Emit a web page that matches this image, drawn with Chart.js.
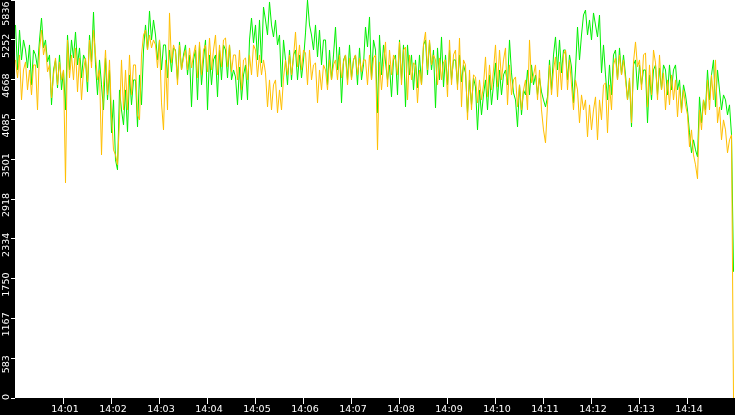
<!DOCTYPE html>
<html>
<head>
<meta charset="utf-8">
<script src="https://cdn.jsdelivr.net/npm/chart.js@4.4.1/dist/chart.umd.min.js"></script>
<style>
  html, body { margin: 0; padding: 0; background: #000; overflow: hidden; }
  #wrap { width: 735px; height: 415px; }
</style>
</head>
<body>
<div id="wrap"><canvas id="c" width="735" height="415"></canvas></div>
<script>
// ---- data ----
const sampleSeconds = 2.5;          // one sample every 2.5 s, starting 14:00:00
const greenSeries = [
5470,4810,5396,4957,5250, 5103,4840,5177,4591,5103, 5030,4840,5250,5572,5133, 5250,4928,5030,4298,4810,
4957,4547,5030,4517,4810, 4224,5323,4810,5250,4986, 5367,4884,5133,4693,5030, 4957,4488,5323,4928,5660,
4884,4444,4957,4591,4224, 4986,4371,4810,3888,4371, 3492,3345,4517,4224,4005, 4517,3902,4737,4298,4664,
4664,3975,4737,4298,5103, 5470,5103,5675,5250,5543, 5323,4957,5250,4810,5177, 5177,4693,5103,4781,5133,
5103,4664,5221,4810,5030, 5177,4737,5030,4268,4957, 5103,4371,5177,4591,4957, 5250,4224,5030,4591,4957,
5030,4415,5103,4664,5177, 5103,4693,5177,4664,4810, 4708,4298,4854,4371,4737, 4884,4371,5250,5572,5206,
5470,4957,5543,4913,5733, 5543,5323,5807,5470,5294, 5543,5177,5323,4561,5250, 4957,4591,5103,4664,5030,
5103,4664,5030,4693,4957, 5353,5836,5470,5323,5103, 5470,5001,5396,4884,5250, 5250,4591,5103,4664,5030,
5440,4810,5147,4327,4957, 5030,4664,5177,4693,4957, 5030,4591,5133,4664,4884, 5440,5147,5587,4664,5250,
5103,4181,5323,4737,5177, 4928,4664,4884,4415,4957, 5030,4444,5250,4664,5177, 4268,5177,4737,5030,4517,
4957,4547,5030,4591,5177, 5250,4737,5221,4810,5103, 4254,5133,4664,5294,4561, 5030,4591,5103,4664,4957,
4957,4591,5030,4635,4884, 4767,4181,4664,4298,4693, 4561,3931,4517,4151,4444, 4664,4224,4737,4298,4591,
4913,4371,4810,4444,4737, 4810,4591,5250,4767,4474, 4371,3975,4591,4151,4517, 4444,4810,4444,4884,4591,
4737,4444,4693,4488,4371, 4268,4415,4957,4517,5030, 5294,4810,5250,4767,5103, 5103,4664,5030,4854,4327,
4810,5440,4957,5323,5616, 5689,5323,5543,5250,5646, 5470,5294,5616,4767,5177, 4737,4371,4884,4444,5030,
5103,4664,5133,4737,5030, 4737,4371,4664,3975,4884, 4957,4517,4884,4591,4810, 4810,4034,4737,4371,4810,
4884,4444,4840,4517,4884, 4810,4444,4884,4517,4810, 4884,4517,4664,4224,4591, 4444,4224,3888,3595,3785,
3638,3536,4415,4034,4371, 4224,4810,4371,4737,4957, 4268,4810,4517,4224,4444, 4371,4151,4298,3858,1851
];
const orangeSeries = [
4957,4693,5030,4371,4810, 4928,4517,4810,4444,4884, 4884,4224,5103,5396,5030, 5177,4781,4884,4400,4737,
4986,4591,4928,4664,4810, 3155,5250,4693,5030,4664, 5133,4488,4986,4371,4810, 4986,4635,5250,4840,5396,
5030,4664,4810,3565,4591, 5103,4444,4957,4151,3638, 3565,3419,4078,4957,4224, 4810,4224,5030,4444,4884,
4884,4151,4078,5030,5323, 5396,5103,5323,5133,5250, 5177,4840,5250,4327,3931, 4957,4224,5646,4913,5177,
5074,4591,5177,4810,4986, 5103,4810,5133,4840,5030, 5177,4693,5221,4737,5103, 5177,4781,5279,4810,5103,
5323,4737,5177,4854,5250, 5279,4854,5177,4781,5030, 5030,4664,5103,4517,4957, 4986,4664,5030,4737,5177,
5103,4708,5030,4737,4957, 4767,4268,4664,4224,4591, 4664,4181,4517,4224,4693, 4957,4737,5030,4737,4986,
5367,4854,5177,4810,5103, 5060,4591,5103,4664,4884, 4913,4327,4810,4517,4884, 4810,4517,4957,4664,4884,
4957,4664,5030,4693,4928, 5030,4591,4986,4664,4957, 5030,4737,4986,4781,4957, 4957,4591,5030,4664,4986,
5030,3638,4928,4517,4884, 5221,4561,5103,4737,5030, 4957,4737,5221,4591,5103, 5147,4371,5030,4664,4913,
4884,4327,4810,4591,5177, 5367,4810,5250,4884,5030, 4957,4591,4986,4664,4928, 4957,4415,5250,4591,5030,
5103,4517,5279,4268,4957, 4884,4078,4810,4224,4737, 4708,4327,4664,4371,4591, 5001,4415,4884,4517,4810,
5177,4561,5103,4664,4957, 5133,4298,4884,4444,4664, 4708,4268,4591,4224,4517, 4664,4224,5250,4620,4737,
4884,4371,4810,4224,3931, 3741,4298,4884,4444,4810, 5001,4415,4928,4517,5030, 5103,4517,4957,4591,4224,
4664,4517,4034,4444,4224, 4371,3829,4298,3931,4224, 4415,3785,4371,4078,4591, 4620,3888,4591,4224,4884,
4986,4664,5030,4737,4957, 4664,4371,4693,4034,4928, 5221,4854,4957,4517,5030, 5060,4268,4884,4444,5103,
4913,4371,5030,4517,4767, 4224,4664,4298,4737,4371, 4664,4122,4561,4181,4517, 4298,4151,3682,3931,3565,
3419,3214,4224,3931,4371, 4151,4664,4224,4737,4371, 4957,4034,4268,3785,4078, 3931,3595,3785,3858,0
];
const xTickSeconds = [60,120,180,240,300,360,420,480,540,600,660,720,780,840];
const xTickLabels = ['14:01','14:02','14:03','14:04','14:05','14:06','14:07','14:08','14:09','14:10','14:11','14:12','14:13','14:14'];
const yTickValues = [0,583.6,1167.2,1750.8,2334.4,2918,3501.6,4085.2,4668.8,5252.4,5836];
const yTickLabels = ['0','583','1167','1750','2334','2918','3501','4085','4668','5252','5836'];
const yMax = 5836;

const sampleTimes = greenSeries.map((_, i) => i * sampleSeconds);

const plotBg = {
  id: 'plotBg',
  beforeDraw(chart) {
    const {ctx, chartArea: a} = chart;
    ctx.save();
    ctx.fillStyle = '#000';
    ctx.fillRect(0, 0, chart.width, chart.height);
    ctx.fillStyle = '#fff';
    ctx.fillRect(a.left, a.top, a.right - a.left, a.bottom - a.top);
    ctx.restore();
    // center rotated y labels a few px below their tick, kept inside the axis
    try {
      const s = chart.scales.y;
      const items = s.getLabelItems();
      ctx.save();
      ctx.font = '9.5px "DejaVu Sans"';
      items.forEach((it, i) => {
        const w = ctx.measureText(String(it.label)).width;
        const p = s.getPixelForValue(yTickValues[i]);
        let c = p + 6;
        c = Math.max(c, w / 2 + 1.5);
        c = Math.min(c, 400 - w / 2);
        it.options.textAlign = 'center';
        it.options.translation = [it.options.translation[0], c];
      });
      ctx.restore();
    } catch (e) {}
  }
};

new Chart(document.getElementById('c'), {
  type: 'line',
  plugins: [plotBg],
  data: {
    labels: sampleTimes,
    datasets: [
      { label: 'green', data: greenSeries, borderColor: '#00f000', borderWidth: 1, pointRadius: 0, tension: 0, order: 1 },
      { label: 'orange', data: orangeSeries, borderColor: '#ffbf00', borderWidth: 1, pointRadius: 0, tension: 0, order: 0 }
    ]
  },
  options: {
    responsive: false,
    animation: false,
    devicePixelRatio: 1,
    layout: { padding: 0 },
    plugins: { legend: { display: false }, tooltip: { enabled: false } },
    scales: {
      x: {
        type: 'linear',
        min: -0.625,
        max: 899.375,
        afterBuildTicks(s) { s.ticks = xTickSeconds.map(v => ({ value: v })); },
        afterFit(s) { s.height = 17; s.paddingLeft = 0; s.paddingRight = 0; s.paddingTop = 0; s.paddingBottom = 0; },
        border: { display: false },
        grid: { drawOnChartArea: false, color: '#fff', tickLength: 6, lineWidth: 1 },
        ticks: {
          color: '#fff', font: { family: 'DejaVu Sans', size: 9.5 }, padding: 0,
          maxRotation: 0, minRotation: 0, autoSkip: false, labelOffset: 1.5,
          callback(v, i) { return xTickLabels[i]; }
        }
      },
      y: {
        min: 0,
        max: yMax,
        afterBuildTicks(s) { s.ticks = yTickValues.map(v => ({ value: v })); },
        afterFit(s) { s.width = 15; s.paddingLeft = 0; s.paddingRight = 0; s.paddingTop = 0; s.paddingBottom = 0; },
        border: { display: false },
        grid: { drawOnChartArea: false, color: '#fff', tickLength: 4, lineWidth: 1 },
        ticks: {
          color: '#fff', font: { family: 'DejaVu Sans', size: 9.5 }, padding: 4,
          minRotation: 90, maxRotation: 90, autoSkip: false, labelOffset: -6,
          callback(v, i) { return yTickLabels[i]; }
        }
      }
    }
  }
});
</script>
</body>
</html>
